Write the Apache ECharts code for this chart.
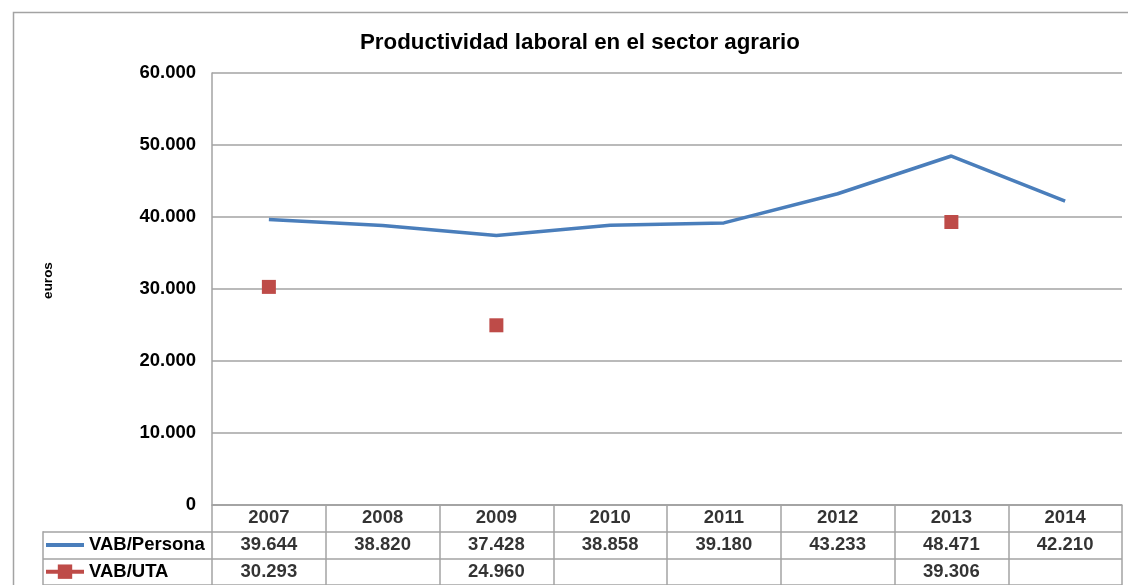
<!DOCTYPE html>
<html>
<head>
<meta charset="utf-8">
<script src="https://cdn.jsdelivr.net/npm/echarts@6/dist/echarts.min.js"></script>
<style>
  html, body { margin: 0; padding: 0; background: #fff; }
  #chart { width: 1128px; height: 585px; }
</style>
</head>
<body>
<div id="chart"></div>
<script>
const years = ['2007', '2008', '2009', '2010', '2011', '2012', '2013', '2014'];
const vabPersona = [39644, 38820, 37428, 38858, 39180, 43233, 48471, 42210];
const vabUta = [30293, null, 24960, null, null, null, 39306, null];
const rowNames = ['', 'VAB/Persona', 'VAB/UTA'];

const fmtNum = (n) => n === 0 ? '0' : String(n).replace(/\B(?=(\d{3})+(?!\d))/g, '.');
const FONT = 'Liberation Sans, Arial, sans-serif';
const GRAY = '#a3a3a3';
const BLUE = '#4a7ebb';
const RED = '#be4b48';

// cells of the data table: [col, row, text]
const cells = [];
years.forEach((y, i) => cells.push([i, 0, y]));
vabPersona.forEach((v, i) => cells.push([i, 1, fmtNum(v)]));
vabUta.forEach((v, i) => { if (v != null) cells.push([i, 2, fmtNum(v)]); });

const chart = echarts.init(document.getElementById('chart'), null, { renderer: 'canvas' });

chart.setOption({
  animation: false,
  title: {
    text: 'Productividad laboral en el sector agrario',
    left: 355, top: 27,
    textStyle: { fontFamily: FONT, fontSize: 22.3, fontWeight: 'bold', color: '#000' }
  },
  legend: {
    orient: 'vertical', left: 44, top: 535.5, padding: 0,
    itemWidth: 38, itemHeight: 18, itemGap: 7.67,
    data: [
      { name: 'VAB/Persona', itemStyle: { opacity: 0 }, lineStyle: { width: 4, color: BLUE } },
      { name: 'VAB/UTA', lineStyle: { width: 4, color: RED } }
    ],
    textStyle: { fontFamily: FONT, fontSize: 18.5, lineHeight: 19, fontWeight: 'bold', color: '#000' }
  },
  graphic: [{
    type: 'rect', left: 11, top: 10, silent: true,
    shape: { width: 1200, height: 700 },
    style: { fill: 'none', stroke: GRAY, lineWidth: 1.5 }
  }],
  grid: [
    { left: 212, right: 6, top: 73, height: 432 },
    { left: 212, right: 6, top: 505, height: 80 },
    { left: 43, width: 169, top: 531.67, height: 53.33 }
  ],
  xAxis: [
    {
      gridIndex: 0, type: 'category', data: years, boundaryGap: true,
      axisLine: { show: true, lineStyle: { color: GRAY, width: 1.5 } },
      axisTick: { show: false }, axisLabel: { show: false }, splitLine: { show: false }
    },
    {
      gridIndex: 1, type: 'category', data: years, boundaryGap: true,
      axisLine: { show: false }, axisTick: { show: false }, axisLabel: { show: false },
      splitLine: { show: true, interval: 0, lineStyle: { color: GRAY, width: 1.5 } }
    },
    { gridIndex: 2, type: 'value', show: false }
  ],
  yAxis: [
    {
      gridIndex: 0, type: 'value', min: 0, max: 60000, interval: 10000,
      name: 'euros', nameLocation: 'middle', nameGap: 157, nameRotate: 90,
      nameTextStyle: { fontFamily: FONT, fontSize: 13.5, fontWeight: 'bold', color: '#000', padding: [0, 0, 0, 17] },
      axisLine: { show: true, lineStyle: { color: GRAY, width: 1.5 } },
      axisTick: { show: false },
      axisLabel: { margin: 16, formatter: fmtNum, fontFamily: FONT, fontSize: 18.5, fontWeight: 'bold', color: '#000' },
      splitLine: { show: true, lineStyle: { color: GRAY, width: 1.5 } }
    },
    {
      gridIndex: 1, type: 'category', data: rowNames, inverse: true, boundaryGap: true,
      axisLine: { show: false }, axisTick: { show: false }, axisLabel: { show: false },
      splitLine: { show: true, interval: 0, lineStyle: { color: GRAY, width: 1.5 } }
    },
    {
      gridIndex: 2, type: 'category', data: rowNames.slice(1), inverse: true, boundaryGap: true,
      axisLine: { show: true, lineStyle: { color: GRAY, width: 1.5 } },
      axisTick: { show: false }, axisLabel: { show: false },
      splitLine: { show: true, interval: 0, lineStyle: { color: GRAY, width: 1.5 } }
    }
  ],
  series: [
    {
      name: 'VAB/Persona', type: 'line', xAxisIndex: 0, yAxisIndex: 0,
      data: vabPersona, symbol: 'none',
      lineStyle: { color: BLUE, width: 3.5 }, itemStyle: { color: BLUE }
    },
    {
      name: 'VAB/UTA', type: 'line', xAxisIndex: 0, yAxisIndex: 0,
      data: vabUta, connectNulls: false, symbol: 'rect', symbolSize: 14, showAllSymbol: true,
      lineStyle: { color: RED, width: 3.5 }, itemStyle: { color: RED }
    },
    {
      name: 'table', type: 'scatter', xAxisIndex: 1, yAxisIndex: 1,
      data: cells, symbol: 'rect', symbolSize: 1, itemStyle: { color: 'rgba(0,0,0,0)' },
      label: {
        show: true, position: 'inside', formatter: (p) => p.value[2],
        fontFamily: FONT, fontSize: 18.5, fontWeight: 'bold', color: '#000'
      },
      silent: true
    }
  ]
});
</script>
</body>
</html>
